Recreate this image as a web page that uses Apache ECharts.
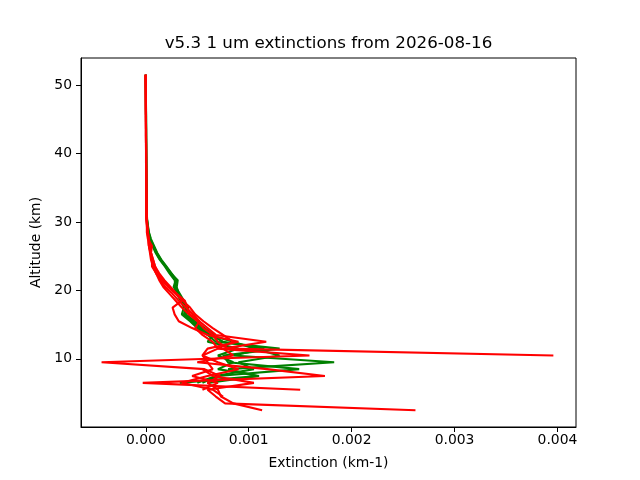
<!DOCTYPE html>
<html>
<head>
<meta charset="utf-8">
<script src="https://cdn.jsdelivr.net/npm/echarts@6/dist/echarts.min.js"></script>
<style>html,body{margin:0;padding:0;background:#fff}#c{width:640px;height:480px}</style>
</head>
<body>
<div id="c"></div>
<script>
// Altitude levels (km)
const altitudes = [51.5,50.5,49.5,48.5,47.5,46.5,45.5,44.5,43.5,42.5,41.5,40.5,39.5,38.5,37.5,36.5,35.5,34.5,33.5,32.5,31.5,
  30.5,29.5,28.5,27.5,26.5,25.5,24.5,23.5,22.5,21.5,20.5,19.5,18.5,17.5,16.5,15.5,14.5,13.5,12.5,11.5,10.5,9.5,8.5,7.5,6.5,5.5,4.5,3.5,2.5];

// Extinction profiles, in units of 1e-4 km-1 (null = missing)
const green1 = [0.00,0.00,0.01,0.01,0.01,0.01,0.02,0.02,0.02,0.03,0.03,0.03,0.04,0.04,0.05,0.05,0.06,0.06,0.07,0.08,0.09,
  0.10,0.15,0.25,0.40,0.70,1.00,1.40,1.90,2.40,3.10,3.00,3.20,3.60,4.00,3.80,4.60,5.40,6.30,7.50,11.5,8.5,18.3,8.0,10.8,3.3,null,null,null,null];
const green2 = [-0.02,-0.01,0.00,0.00,0.01,0.01,0.01,0.02,0.02,0.02,0.03,0.03,0.03,0.04,0.04,0.05,0.06,0.07,0.07,0.08,0.09,
  0.12,0.20,0.30,0.50,0.80,1.10,1.50,2.00,2.50,3.00,2.80,3.00,3.40,3.70,3.50,4.30,5.00,6.00,6.80,13.0,7.5,8.0,14.9,7.0,5.5,null,null,null,null];
const green3 = [-0.01,0.00,0.00,0.01,0.01,0.01,0.02,0.02,0.02,0.02,0.03,0.03,0.04,0.04,0.04,0.05,0.05,0.06,0.07,0.08,0.08,
  0.10,0.18,0.28,0.45,0.75,1.05,1.45,1.95,2.45,2.90,2.70,3.10,3.50,3.90,3.70,4.40,5.20,6.20,8.50,10.5,13.0,9.0,10.5,6.8,5.0,null,null,null,null];
const green4 = [0.00,0.00,0.00,0.01,0.01,0.02,0.02,0.02,0.03,0.03,0.03,0.04,0.04,0.05,0.05,0.05,0.06,0.06,0.07,0.07,0.08,
  0.08,0.14,0.22,0.38,0.65,0.95,1.35,1.85,2.30,2.80,2.90,3.30,3.70,4.10,3.90,4.80,5.70,6.60,6.00,9.0,7.0,8.5,7.0,11.0,6.0,null,null,null,null];

const red1 = [-0.02,-0.01,-0.01,0.00,0.00,0.00,0.01,0.01,0.01,0.01,0.02,0.02,0.02,0.02,0.03,0.03,0.03,0.04,0.04,0.04,0.05,
  0.05,0.10,0.15,0.25,0.30,0.45,0.60,0.80,1.00,1.30,1.70,2.30,2.90,3.50,4.20,5.00,5.60,6.50,7.00,8.0,39.6,null,5.5,6.5,10.5,6.0,6.8,7.7,26.2];
const red2 = [-0.01,-0.01,0.00,0.00,0.00,0.01,0.01,0.01,0.02,0.02,0.02,0.02,0.03,0.03,0.03,0.04,0.04,0.05,0.05,0.06,0.07,
  0.10,0.15,0.20,0.30,0.40,0.50,0.70,0.90,1.20,1.60,2.20,2.90,3.60,4.30,4.80,5.60,6.50,7.50,8.50,7.0,15.9,-4.3,5.7,7.2,6.0,7.0,7.3,8.5,11.3];
const red3 = [-0.02,-0.02,-0.01,-0.01,0.00,0.00,0.00,0.01,0.01,0.01,0.01,0.02,0.02,0.02,0.03,0.03,0.03,0.04,0.05,0.05,0.06,
  0.08,0.12,0.20,0.25,0.30,0.50,0.70,0.90,1.30,1.80,2.40,3.00,3.80,4.00,4.30,5.20,6.00,6.80,11.7,7.5,8.5,5.0,11.8,17.4,-0.3,15.0,null,null,null];
const red4 = [-0.01,-0.01,0.00,0.00,0.00,0.00,0.01,0.01,0.01,0.01,0.02,0.02,0.02,0.02,0.03,0.03,0.03,0.03,0.04,0.04,0.04,
  0.05,0.10,0.10,0.20,0.60,0.50,0.60,0.60,1.00,1.60,2.20,3.00,3.50,2.60,2.80,3.20,4.50,6.00,9.00,6.0,5.5,7.0,9.0,6.0,3.5,6.5,7.5,null,null];
const red5 = [-0.01,0.00,0.00,0.00,0.01,0.01,0.01,0.01,0.02,0.02,0.02,0.03,0.03,0.03,0.04,0.04,0.05,0.05,0.06,0.06,0.07,
  0.10,0.12,0.20,0.25,0.30,0.40,0.50,0.70,1.00,1.40,1.90,2.60,3.20,3.90,4.60,5.20,4.80,5.50,6.50,7.0,5.5,6.0,6.5,4.5,7.0,5.5,null,null,null];

const UNIT = 1e-4;
const xTicks = [0, 0.001, 0.002, 0.003, 0.004];
const yTicks = [10, 20, 30, 40, 50];

const profiles = [
  {data: green1, color: '#008000'}, {data: green2, color: '#008000'},
  {data: green3, color: '#008000'}, {data: green4, color: '#008000'},
  {data: red1, color: '#ff0000'}, {data: red2, color: '#ff0000'},
  {data: red3, color: '#ff0000'}, {data: red4, color: '#ff0000'},
  {data: red5, color: '#ff0000'}
];

const series = [];
profiles.forEach(p => {
  let seg = [];
  const flush = () => {
    if (seg.length) {
      series.push({type: 'line', data: seg, showSymbol: false, symbol: 'none',
        lineStyle: {color: p.color, width: 2.1}, itemStyle: {color: p.color}, z: 2, animation: false});
    }
    seg = [];
  };
  p.data.forEach((v, i) => {
    if (v === null) { flush(); } else { seg.push([v * UNIT, altitudes[i]]); }
  });
  flush();
});

const font = 'DejaVu Sans';
const chart = echarts.init(document.getElementById('c'), null, {renderer: 'canvas'});
chart.setOption({
  animation: false,
  backgroundColor: '#fff',
  grid: {left: 81, right: 64, top: 58, bottom: 53, show: true, borderColor: '#000', borderWidth: 1, backgroundColor: 'transparent'},
  graphic: [{
    type: 'text', x: 328.5, y: 44,
    style: {text: 'v5.3 1 um extinctions from 2026-08-16', font: '16.7px "DejaVu Sans"', fill: '#000', textAlign: 'center', textVerticalAlign: 'middle'}
  }],
  xAxis: {
    type: 'value', min: -0.00063, max: 0.00418,
    name: 'Extinction (km-1)', nameLocation: 'middle', nameGap: 29,
    nameTextStyle: {fontFamily: font, fontSize: 13.9, color: '#000'},
    axisLine: {show: true, onZero: false, lineStyle: {color: '#000', width: 1}},
    axisTick: {show: true, inside: false, length: 5, customValues: xTicks, lineStyle: {color: '#000', width: 1}},
    axisLabel: {show: true, margin: 6, customValues: xTicks, fontFamily: font, fontSize: 13.9, color: '#000',
      formatter: v => v.toFixed(3)},
    splitLine: {show: false}
  },
  yAxis: {
    type: 'value', min: 0.05, max: 53.95,
    name: 'Altitude (km)', nameLocation: 'middle', nameGap: 30, nameRotate: 90,
    nameTextStyle: {fontFamily: font, fontSize: 13.9, color: '#000'},
    axisLine: {show: true, onZero: false, lineStyle: {color: '#000', width: 1}},
    axisTick: {show: true, inside: false, length: 5, customValues: yTicks, lineStyle: {color: '#000', width: 1}},
    axisLabel: {show: true, margin: 9, customValues: yTicks, fontFamily: font, fontSize: 13.9, color: '#000'},
    splitLine: {show: false}
  },
  series: series
});
</script>
</body>
</html>
